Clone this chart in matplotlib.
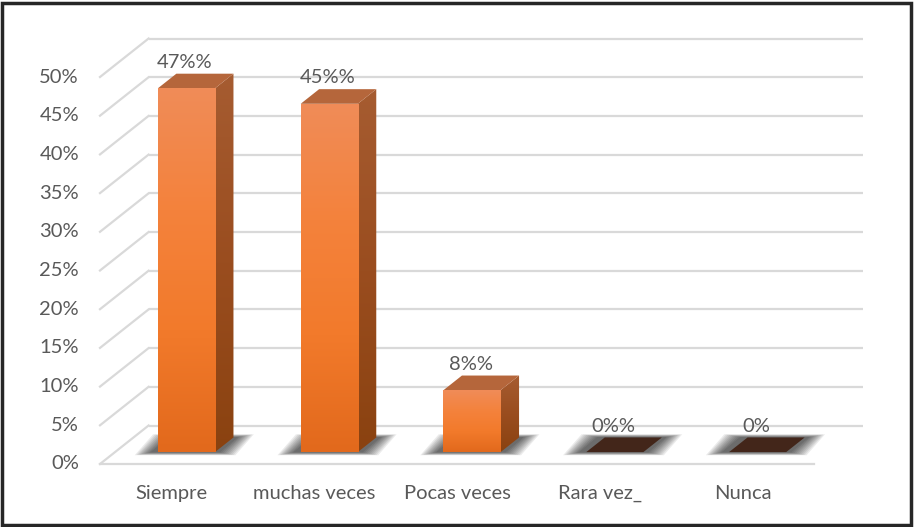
import numpy as np
import matplotlib
matplotlib.use("Agg")
import matplotlib.pyplot as plt
from matplotlib.patches import Polygon, Rectangle
from matplotlib.colors import LinearSegmentedColormap

# ---- data ----
categories = ["Siempre", "muchas veces", "Pocas veces", "Rara vez_", "Nunca"]
values = [47, 45, 8, 0, 0]
value_labels = ["47%%", "45%%", "8%%", "0%%", "0%"]
y_ticks = [0, 5, 10, 15, 20, 25, 30, 35, 40, 45, 50]
y_tick_labels = [f"{t}%" for t in y_ticks]

# ---- style / geometry ----
FONT = "Lato"
FONT_SIZE = 14.5
TEXT_COLOR = "#595959"
GRID_COLOR = "#d9d9d9"
DEPTH_X, DEPTH_Y = 0.34, 4.97       # full depth of the 3-D floor in data units
BAR_FRONT, BAR_BACK = 0.31, 0.69    # bar position inside that depth
BAR_HALF = 0.2                      # half bar width (category units)

fig = plt.figure(figsize=(9.14, 5.27), dpi=100)
ax = fig.add_axes([0, 0, 1, 1])
ax.set_xlim(-1.2003, 5.2003)
ax.set_ylim(-8.14, 59.95)
ax.axis("off")

n = len(categories)
x_left, x_right = -0.5, n - 0.5

# back wall gridlines and left wall diagonals
for t in y_ticks:
    ax.plot([x_left + DEPTH_X, x_right + DEPTH_X], [t + DEPTH_Y, t + DEPTH_Y],
            color=GRID_COLOR, lw=1.6, zorder=1, solid_capstyle="butt")
    ax.plot([x_left, x_left + DEPTH_X], [t, t + DEPTH_Y],
            color=GRID_COLOR, lw=1.6, zorder=1)
# floor front edge
ax.plot([x_left, x_right], [0, 0], color=GRID_COLOR, lw=1.6, zorder=1)

# tick labels
for t, lab in zip(y_ticks, y_tick_labels):
    ax.text(-0.647, t, lab, ha="right", va="center", fontsize=FONT_SIZE,
            color=TEXT_COLOR, family=FONT)
for i, c in enumerate(categories):
    ax.text(i, -3.75, c, ha="center", va="center", fontsize=FONT_SIZE,
            color=TEXT_COLOR, family=FONT)

front_cmap = LinearSegmentedColormap.from_list(
    "front", ["#e2691c", "#f27a2b", "#f4823c", "#f08c58"])
side_cmap = LinearSegmentedColormap.from_list(
    "side", ["#8a4210", "#9a4d1f", "#a65c31"])
grad = np.linspace(0, 1, 256).reshape(-1, 1)


def depth_pt(x, y, f):
    return (x + f * DEPTH_X, y + f * DEPTH_Y)


for i, v in enumerate(values):
    xl, xr = i - BAR_HALF, i + BAR_HALF

    # soft shadow on the floor
    for k in range(10):
        ex = 0.015 + 0.012 * k
        ey = 0.05 + 0.04 * k
        sh = [depth_pt(xl - ex - 0.04, -ey, BAR_FRONT),
              depth_pt(xr + ex + 0.02, -ey, BAR_FRONT),
              depth_pt(xr + ex + 0.02, ey, BAR_BACK),
              depth_pt(xl - ex - 0.04, ey, BAR_BACK)]
        ax.add_patch(Polygon(sh, closed=True, facecolor="black",
                             edgecolor="none", alpha=0.08, zorder=2))

    if v > 0:
        # right side face
        side = [depth_pt(xr, 0, BAR_FRONT), depth_pt(xr, 0, BAR_BACK),
                depth_pt(xr, v, BAR_BACK), depth_pt(xr, v, BAR_FRONT)]
        sp = Polygon(side, closed=True, facecolor="none", edgecolor="none")
        ax.add_patch(sp)
        sx0, sy0 = depth_pt(xr, 0, BAR_FRONT)
        sx1, sy1 = depth_pt(xr, v, BAR_BACK)
        im = ax.imshow(grad, cmap=side_cmap, origin="lower", aspect="auto",
                       extent=[sx0, sx1, sy0, sy1], zorder=3,
                       interpolation="bilinear")
        im.set_clip_path(sp)

        # top face
        top = [depth_pt(xl, v, BAR_FRONT), depth_pt(xr, v, BAR_FRONT),
               depth_pt(xr, v, BAR_BACK), depth_pt(xl, v, BAR_BACK)]
        ax.add_patch(Polygon(top, closed=True, facecolor="#b5663b",
                             edgecolor="none", zorder=3))

        # front face
        fx0, fy0 = depth_pt(xl, 0, BAR_FRONT)
        fx1, fy1 = depth_pt(xr, v, BAR_FRONT)
        rect = Rectangle((fx0, fy0), fx1 - fx0, fy1 - fy0,
                         facecolor="none", edgecolor="none")
        ax.add_patch(rect)
        im = ax.imshow(grad, cmap=front_cmap, origin="lower", aspect="auto",
                       extent=[fx0, fx1, fy0, fy1], zorder=4,
                       interpolation="bilinear")
        im.set_clip_path(rect)
    else:
        flat = [depth_pt(xl, 0, BAR_FRONT), depth_pt(xr, 0, BAR_FRONT),
                depth_pt(xr, 0, BAR_BACK), depth_pt(xl, 0, BAR_BACK)]
        ax.add_patch(Polygon(flat, closed=True, facecolor="#43261a",
                             edgecolor="none", zorder=3))

    lx, _ = depth_pt(i, 0, BAR_FRONT)
    ax.text(lx - 0.01, v + BAR_BACK * DEPTH_Y + 1.45, value_labels[i],
            ha="center", va="center", fontsize=FONT_SIZE, color=TEXT_COLOR,
            family=FONT, zorder=6)

ax.set_xlim(-1.2003, 5.2003)
ax.set_ylim(-8.14, 59.95)

# outer frame
fig.patches.append(Rectangle((1.5 / 914, 2.5 / 527), 909.5 / 914, 521.5 / 527,
                             transform=fig.transFigure, fill=False,
                             edgecolor="#262626", linewidth=2.5))

fig.savefig("out.png", dpi=100)
